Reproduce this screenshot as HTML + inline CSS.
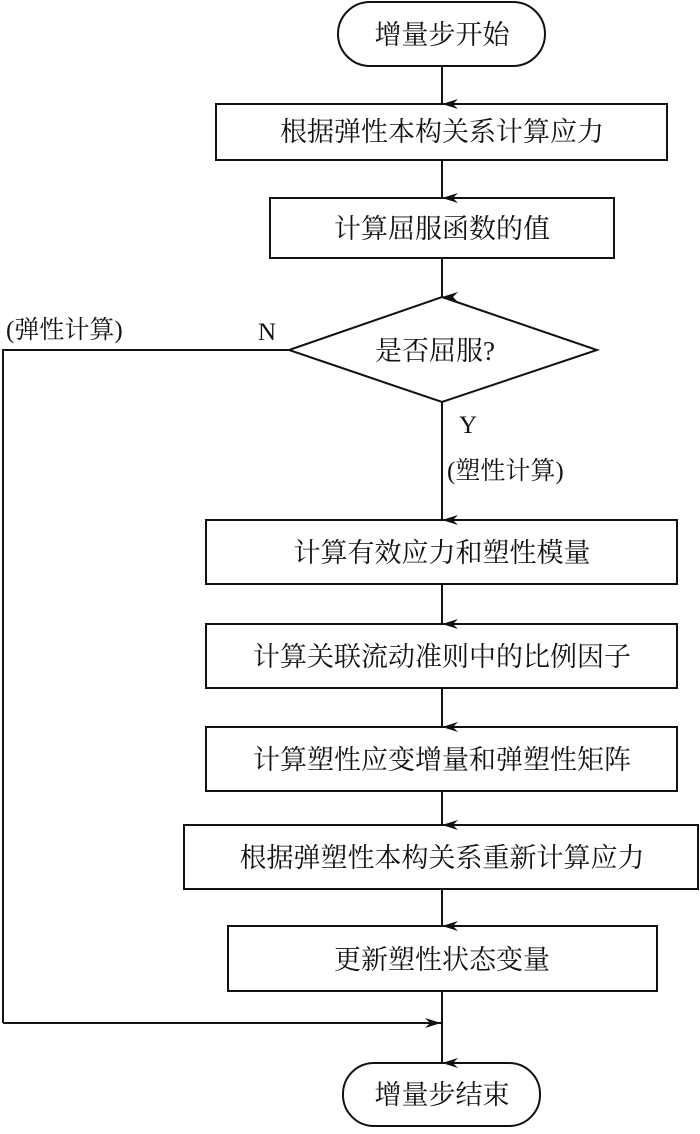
<!DOCTYPE html>
<html><head><meta charset="utf-8"><style>
html,body{margin:0;padding:0;background:#fff}
svg text{font-family:"Liberation Serif","Noto Serif CJK SC",serif;fill:#111}
</style></head><body>
<svg width="700" height="1129" viewBox="0 0 700 1129" xmlns="http://www.w3.org/2000/svg">
<defs><marker id="a" markerWidth="10" markerHeight="16" refX="5" refY="16" orient="auto-start-reverse" markerUnits="userSpaceOnUse" viewBox="0 0 10 16"><path d="M0,0 L5,16 L10,0 L5,5 Z" fill="#111"/></marker>
<marker id="h" markerWidth="16" markerHeight="10" refX="16" refY="5" markerUnits="userSpaceOnUse" viewBox="0 0 16 10"><path d="M0,0 L16,5 L0,10 L5,5 Z" fill="#111"/></marker></defs>
<g fill="none" stroke="#111" stroke-width="2">
<rect x="338" y="2" width="207" height="64" rx="32"/>
<rect x="216" y="104" width="451" height="56"/>
<rect x="270" y="198" width="344" height="60"/>
<polygon points="442,297 597,350 442,402 289,350"/>
<rect x="206" y="520" width="471" height="64"/>
<rect x="206" y="624" width="471" height="64"/>
<rect x="206" y="727" width="471" height="64"/>
<rect x="184" y="825" width="514" height="64"/>
<rect x="228" y="926" width="429" height="65"/>
<rect x="343" y="1063" width="197" height="63" rx="31"/>
<line x1="442" y1="66" x2="442" y2="104" marker-end="url(#a)"/>
<line x1="442" y1="160" x2="442" y2="198" marker-end="url(#a)"/>
<line x1="442" y1="258" x2="442" y2="297" marker-end="url(#a)"/>
<line x1="442" y1="402" x2="442" y2="520" marker-end="url(#a)"/>
<line x1="442" y1="584" x2="442" y2="624" marker-end="url(#a)"/>
<line x1="442" y1="688" x2="442" y2="727" marker-end="url(#a)"/>
<line x1="442" y1="791" x2="442" y2="825" marker-end="url(#a)"/>
<line x1="442" y1="889" x2="442" y2="926" marker-end="url(#a)"/>
<line x1="442" y1="991" x2="442" y2="1063" marker-end="url(#a)"/>
<polyline points="289,350 3,350 3,1023"/>
<line x1="3" y1="1023" x2="441" y2="1023" marker-end="url(#h)"/>
</g>
<g font-size="27" text-anchor="middle">
<text x="442" y="44">增量步开始</text>
<text x="442" y="141">根据弹性本构关系计算应力</text>
<text x="442" y="238">计算屈服函数的值</text>
<text x="435" y="360">是否屈服?</text>
<text x="442" y="562">计算有效应力和塑性模量</text>
<text x="442" y="666">计算关联流动准则中的比例因子</text>
<text x="442" y="769">计算塑性应变增量和弹塑性矩阵</text>
<text x="442" y="867">根据弹塑性本构关系重新计算应力</text>
<text x="442" y="969">更新塑性状态变量</text>
<text x="442" y="1104">增量步结束</text>
</g>
<g font-size="25">
<text x="6" y="338">(弹性计算)</text>
<text x="258" y="340">N</text>
<text x="459" y="433">Y</text>
<text x="447" y="479">(塑性计算)</text>
</g>
</svg>
</body></html>
